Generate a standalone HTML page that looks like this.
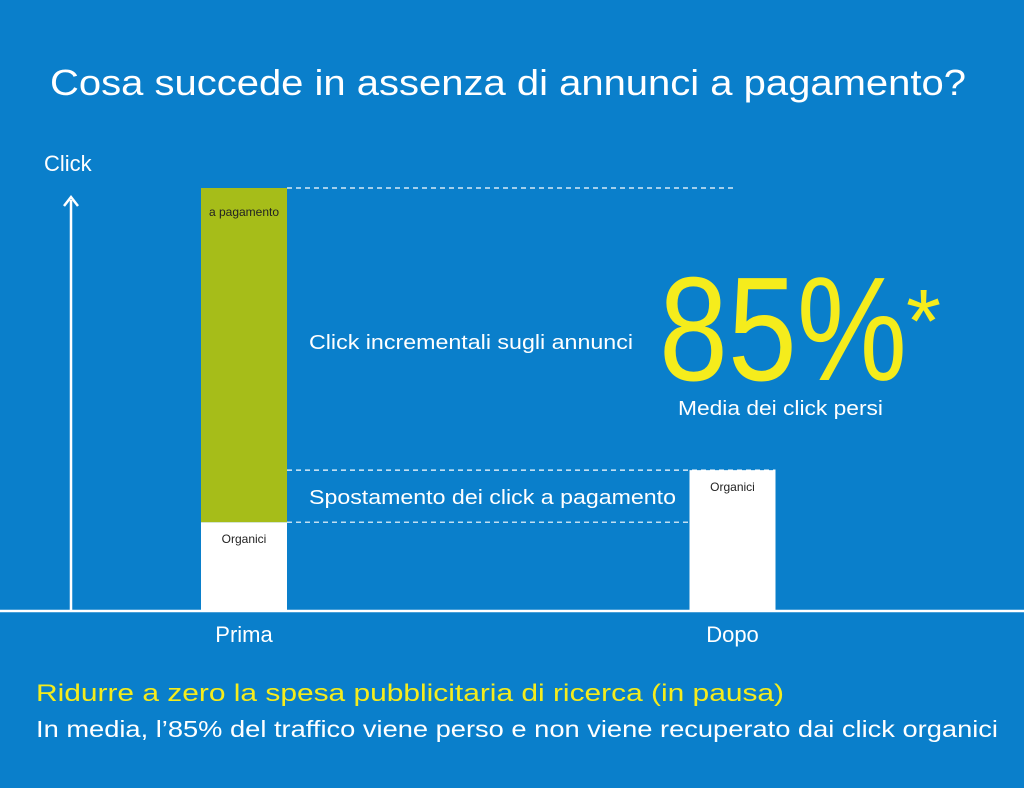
<!DOCTYPE html>
<html><head><meta charset="utf-8"><style>
html,body{margin:0;padding:0;background:#0a7fcb}
svg{display:block}
text{font-family:"Liberation Sans",sans-serif}
</style></head><body>
<svg id="chart" width="1024" height="788" viewBox="0 0 1024 788" xmlns="http://www.w3.org/2000/svg">
<rect x="0" y="0" width="1024" height="788" fill="#0a7fcb"/>
<text x="508" y="95" text-anchor="middle" font-size="36" fill="#fff" textLength="916" lengthAdjust="spacingAndGlyphs">Cosa succede in assenza di annunci a pagamento?</text>
<text x="44" y="171" font-size="22" fill="#fff">Click</text>
<line x1="71" y1="200" x2="71" y2="611" stroke="#fff" stroke-width="2.5"/>
<polyline points="64,206 71,197 78,206" fill="none" stroke="#fff" stroke-width="2.5"/>
<line x1="0" y1="611" x2="1024" y2="611" stroke="#fff" stroke-width="2.5"/>
<g id="bars"></g>
<g id="guides"></g>
<text x="309" y="349" font-size="20" fill="#fff" textLength="324" lengthAdjust="spacingAndGlyphs">Click incrementali sugli annunci</text>
<text x="309" y="504" font-size="20" fill="#fff" textLength="367" lengthAdjust="spacingAndGlyphs">Spostamento dei click a pagamento</text>
<text x="659" y="380" font-size="148" fill="#f5ec1c" textLength="248" lengthAdjust="spacingAndGlyphs" style="font-weight:300">85%</text>
<text x="906" y="352" font-size="90" fill="#f5ec1c">*</text>
<text x="678" y="415" font-size="20" fill="#fff" textLength="205" lengthAdjust="spacingAndGlyphs">Media dei click persi</text>
<text x="36" y="701" font-size="24" fill="#f5ec1c" textLength="748" lengthAdjust="spacingAndGlyphs">Ridurre a zero la spesa pubblicitaria di ricerca (in pausa)</text>
<text x="36" y="737" font-size="23" fill="#fff" textLength="962" lengthAdjust="spacingAndGlyphs">In media, l’85% del traffico viene perso e non viene recuperato dai click organici</text>
</svg>
<script>
const categories = ["Prima", "Dopo"];
const organicValues = [21, 33.3];
const paidValues = [79, 0];
const segmentLabels = ["Organici", "a pagamento"];

const NS = "http://www.w3.org/2000/svg";
const baseY = 611, topY = 188, maxVal = 100;
function y(v){ return baseY - v/maxVal*(baseY-topY); }
const centers = [244, 732.5];
function x(i){ return centers[i]; }
const barW = 86;
const bars = document.getElementById("bars");
const guides = document.getElementById("guides");
function mk(tag, attrs){ const e=document.createElementNS(NS,tag); for(const k in attrs) e.setAttribute(k,attrs[k]); return e; }

categories.forEach((c,i)=>{
  const o = organicValues[i], p = paidValues[i];
  const left = x(i)-barW/2;
  const r1 = mk("rect",{x:left,y:y(o),width:barW,height:baseY-y(o),fill:"#fff"});
  
  
  bars.appendChild(r1);
  const t1 = mk("text",{x:x(i),y:y(o)+21,"text-anchor":"middle","font-size":12,fill:"#222"});
  t1.textContent = segmentLabels[0];
  
  
  bars.appendChild(t1);
  if(p>0){
    const r2 = mk("rect",{x:left,y:y(o+p),width:barW,height:y(o)-y(o+p),fill:"#a6bd19"});
    
    
    bars.appendChild(r2);
    const t2 = mk("text",{x:x(i),y:y(o+p)+28,"text-anchor":"middle","font-size":12,fill:"#222"});
    t2.textContent = segmentLabels[1];
    
    
    bars.appendChild(t2);
  }
  const xl = mk("text",{x:x(i),y:642,"text-anchor":"middle","font-size":22,fill:"#fff"});
  xl.textContent = c;
  
  
  bars.appendChild(xl);
});

const startX = x(0)+barW/2;
const guideDefs = [
  [organicValues[0]+paidValues[0], 733, 'guide-total'],
  [organicValues[1], x(1)+barW/2, 'guide-dopo'],
  [organicValues[0], x(1)-barW/2, 'guide-organic']
];
guideDefs.forEach(g=>{
  const l = mk("line",{x1:startX,y1:y(g[0]),x2:g[1],y2:y(g[0]),stroke:"#fff","stroke-width":1.2,"stroke-dasharray":"5,4"});
  
  
  guides.appendChild(l);
});
</script>
</body></html>
